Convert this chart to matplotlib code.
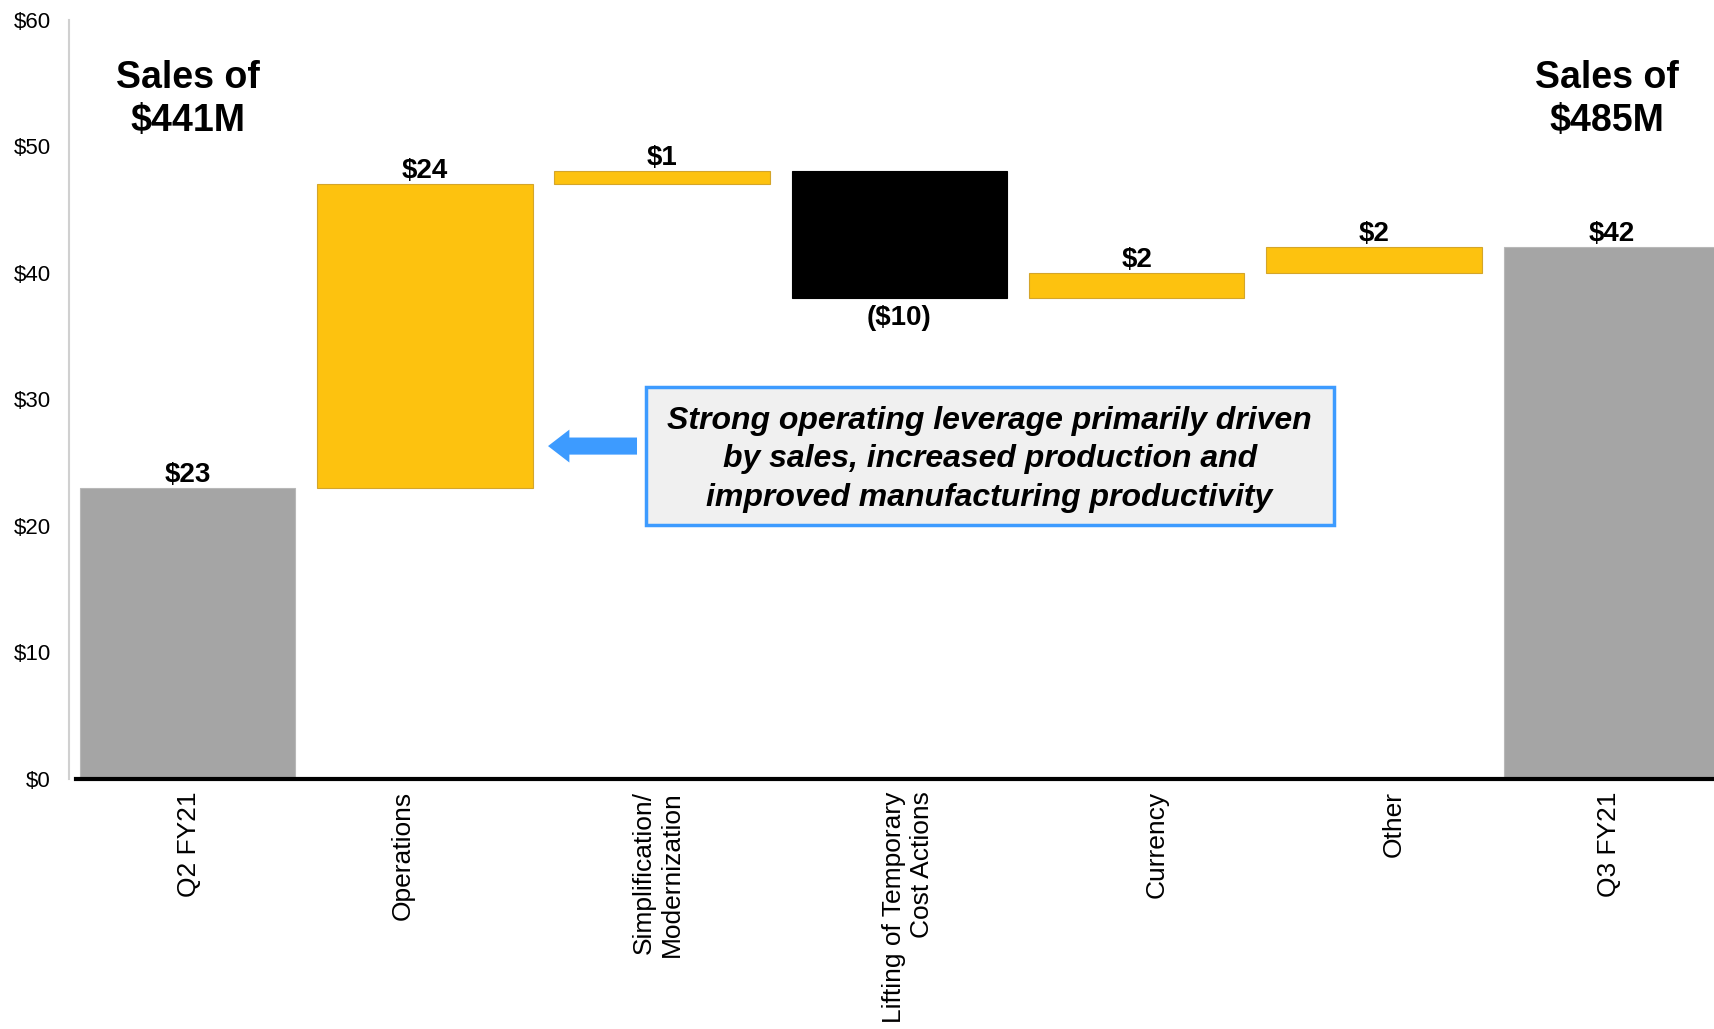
import numpy as np
import matplotlib
matplotlib.use("Agg")
import matplotlib.pyplot as plt
import matplotlib.transforms as mtransforms
from matplotlib.patches import FancyArrow, Rectangle

plt.rcParams['font.family'] = ['Liberation Sans', 'DejaVu Sans']

# EBITDA bridge, $M
categories = ["Q2 FY21", "Operations", "Simplification/\nModernization",
              "Lifting of Temporary\nCost Actions", "Currency", "Other", "Q3 FY21"]
values = [23, 24, 1, -10, 2, 2, 42]
is_total = [True, False, False, False, False, False, True]
sales_left = "Sales of\n$441M"
sales_right = "Sales of\n$485M"
note = ("Strong operating leverage primarily driven\n"
        "by sales, increased production and\n"
        "improved manufacturing productivity")

YELLOW = "#FDC20F"
GRAY = "#A5A5A5"
BLUE = "#3D9BFF"

# bar bottoms/heights for the waterfall
bottoms, heights = [], []
running = 0
for v, tot in zip(values, is_total):
    if tot:
        bottoms.append(0)
        heights.append(v)
        running = v
    else:
        bottoms.append(min(running, running + v))
        heights.append(abs(v))
        running += v
colors = [GRAY if t else (YELLOW if v > 0 else "black") for v, t in zip(values, is_total)]
edges = ["#B8B8B8" if t else ("#D4A52A" if v > 0 else "black") for v, t in zip(values, is_total)]

fig = plt.figure(figsize=(17.15, 10.29), dpi=100)
ax = fig.add_axes([0.0402, 0.2431, 0.9598, 0.7378])

x = np.arange(len(categories))
ax.bar(x, heights, bottom=bottoms, width=0.908, color=colors, edgecolor=edges,
       linewidth=0.8, zorder=2)

ax.set_xlim(-0.5, 6.437)
ax.set_ylim(0, 60)
ax.set_yticks(range(0, 61, 10))
ax.set_yticklabels([f"${t}" for t in range(0, 61, 10)], fontsize=16)
ax.tick_params(axis='y', length=0, pad=13)
ax.set_xticks(x)
ax.set_xticklabels(categories, rotation=90, fontsize=19, va='top', ha='center',
                   multialignment='right')
ax.tick_params(axis='x', length=0, pad=9)

# nudge the category labels sideways a little
label_shift = [0.8, -15.8, -3.2, 6.3, 14.2, 14.2, -1.6]
for lab, dx in zip(ax.get_xticklabels(), label_shift):
    lab.set_transform(lab.get_transform() +
                      mtransforms.ScaledTranslation(dx / 72, 0, fig.dpi_scale_trans))

for side in ['top', 'right', 'bottom']:
    ax.spines[side].set_visible(False)
ax.spines['left'].set_color('#D0D0D0')
ax.spines['left'].set_linewidth(1.5)
ax.axhline(0, xmin=0.004, xmax=1, color='black', lw=3, zorder=3, clip_on=False)

# value labels
for xi, v, b, h in zip(x, values, bottoms, heights):
    if v >= 0:
        ax.annotate(f"${v}", (xi, b + h), xytext=(0, 0), textcoords='offset points',
                    ha='center', va='bottom', fontsize=20, fontweight='bold')
    else:
        ax.annotate(f"(${-v})", (xi, b), xytext=(0, -5), textcoords='offset points',
                    ha='center', va='top', fontsize=20, fontweight='bold')

ax.text(0, 53.7, sales_left, ha='center', va='center', fontsize=27,
        fontweight='bold', linespacing=1.27)
ax.text(5.98, 53.7, sales_right, ha='center', va='center', fontsize=27,
        fontweight='bold', linespacing=1.27)

# callout box with arrow toward the operations bar
ax.add_patch(Rectangle((1.932, 20.06), 2.899, 10.91, facecolor='#F0F0F0',
                       edgecolor=BLUE, linewidth=2.5, zorder=4))
ax.text(3.38, 25.25, note, ha='center', va='center', fontsize=23, fontweight='bold',
        style='italic', linespacing=1.38, zorder=5)
ax.add_patch(FancyArrow(1.894, 26.3, -0.375, 0, width=1.35, head_width=2.6,
                        head_length=0.09, length_includes_head=True,
                        color=BLUE, lw=0, zorder=4))

fig.savefig("out.png", dpi=100)
